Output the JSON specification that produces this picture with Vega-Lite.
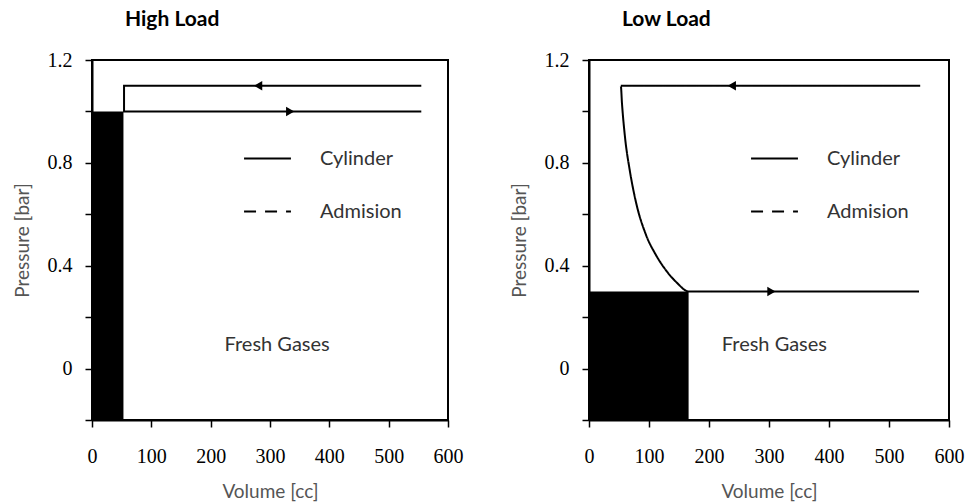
{
  "$schema": "https://vega.github.io/schema/vega-lite/v6.json",
  "background": "white",
  "padding": {"left": 12, "top": 8, "right": 5, "bottom": 2},
  "spacing": 45,
  "datasets": {
    "fill_high": [{"v0": 0, "v1": 53, "p0": -0.2, "p1": 1.0}],
    "path_high": [
      {"seq": 1, "v": 555, "p": 1.1, "series": "Cylinder"},
      {"seq": 2, "v": 54, "p": 1.1, "series": "Cylinder"},
      {"seq": 3, "v": 54, "p": 1.0, "series": "Cylinder"},
      {"seq": 4, "v": 555, "p": 1.0, "series": "Cylinder"}
    ],
    "arrow_high": [
      {"v": 280, "p": 1.1, "dir": "left"},
      {"v": 334, "p": 1.0, "dir": "right"}
    ],
    "note_high": [{"v": 312, "p": 0.09, "label": "Fresh Gases"}],
    "fill_low": [{"v0": 0, "v1": 166, "p0": -0.2, "p1": 0.3}],
    "path_low": [
      {"seq": 1, "v": 552, "p": 1.1, "series": "Cylinder"},
      {"seq": 2, "v": 53, "p": 1.1, "series": "Cylinder"},
      {"seq": 3, "v": 55, "p": 1.03, "series": "Cylinder"},
      {"seq": 4, "v": 60, "p": 0.9, "series": "Cylinder"},
      {"seq": 5, "v": 68, "p": 0.77, "series": "Cylinder"},
      {"seq": 6, "v": 78, "p": 0.65, "series": "Cylinder"},
      {"seq": 7, "v": 95, "p": 0.52, "series": "Cylinder"},
      {"seq": 8, "v": 112, "p": 0.44, "series": "Cylinder"},
      {"seq": 9, "v": 129, "p": 0.38, "series": "Cylinder"},
      {"seq": 10, "v": 146, "p": 0.335, "series": "Cylinder"},
      {"seq": 11, "v": 166, "p": 0.3, "series": "Cylinder"},
      {"seq": 12, "v": 550, "p": 0.3, "series": "Cylinder"}
    ],
    "arrow_low": [
      {"v": 238, "p": 1.1, "dir": "left"},
      {"v": 304, "p": 0.3, "dir": "right"}
    ],
    "note_low": [{"v": 309, "p": 0.09, "label": "Fresh Gases"}]
  },
  "config": {
    "view": {"stroke": "black", "strokeWidth": 2},
    "axis": {
      "domainColor": "black",
      "domainWidth": 2,
      "tickColor": "black",
      "tickWidth": 1.5,
      "tickSize": 7,
      "grid": false,
      "labelFlush": false,
      "labelFont": "Liberation Serif",
      "labelFontSize": 20,
      "labelColor": "black",
      "titleFont": "Lato",
      "titleFontSize": 19,
      "titleFontWeight": "normal",
      "titleColor": "#555555"
    },
    "title": {
      "font": "Lato",
      "fontSize": 21,
      "fontWeight": "bold",
      "color": "black",
      "anchor": "start",
      "frame": "group",
      "dx": 33,
      "offset": 20
    },
    "legend": {
      "orient": "none",
      "title": null,
      "symbolType": "stroke",
      "symbolSize": 2200,
      "symbolStrokeWidth": 2,
      "symbolStrokeColor": "black",
      "labelFont": "Lato",
      "labelFontSize": 20,
      "labelColor": "#333333",
      "labelOffset": 28,
      "rowPadding": 18
    }
  },
  "resolve": {
    "scale": {"strokeDash": "independent", "shape": "independent"},
    "legend": {"strokeDash": "independent"}
  },
  "hconcat": [
    {
      "title": "High Load",
      "width": 356,
      "height": 360,
      "layer": [
        {
          "data": {"name": "fill_high"},
          "mark": {"type": "rect", "color": "black"},
          "encoding": {
            "x": {"field": "v0", "type": "quantitative", "scale": {"domain": [0, 600], "nice": false},
              "axis": {"values": [0, 100, 200, 300, 400, 500, 600], "title": "Volume [cc]", "labelPadding": 19, "titlePadding": 16}},
            "x2": {"field": "v1"},
            "y": {"field": "p0", "type": "quantitative", "scale": {"domain": [-0.2, 1.2], "nice": false, "zero": false},
              "axis": {"values": [-0.2, 0, 0.2, 0.4, 0.6, 0.8, 1.0, 1.2], "format": "~g",
                "labelExpr": "indexof([0, 0.4, 0.8, 1.2], datum.value) >= 0 ? datum.label : ''",
                "title": "Pressure [bar]", "labelPadding": 13, "titlePadding": 15}},
            "y2": {"field": "p1"}
          }
        },
        {
          "data": {"name": "path_high"},
          "mark": {"type": "line", "color": "black", "strokeWidth": 2},
          "encoding": {
            "x": {"field": "v", "type": "quantitative"},
            "y": {"field": "p", "type": "quantitative"},
            "order": {"field": "seq", "type": "quantitative"},
            "strokeDash": {"field": "series", "type": "nominal",
              "scale": {"domain": ["Cylinder", "Admision"], "range": [[1, 0], [12, 9]]},
              "legend": {"legendX": 151, "legendY": 74}}
          }
        },
        {
          "data": {"name": "arrow_high"},
          "mark": {"type": "point", "filled": true, "color": "black", "size": 90, "opacity": 1},
          "encoding": {
            "x": {"field": "v", "type": "quantitative"},
            "y": {"field": "p", "type": "quantitative"},
            "shape": {"field": "dir", "type": "nominal",
              "scale": {"domain": ["left", "right"], "range": ["triangle-left", "triangle-right"]},
              "legend": null}
          }
        },
        {
          "data": {"name": "note_high"},
          "mark": {"type": "text", "font": "Lato", "fontSize": 20, "color": "#333333"},
          "encoding": {
            "x": {"field": "v", "type": "quantitative"},
            "y": {"field": "p", "type": "quantitative"},
            "text": {"field": "label"}
          }
        }
      ]
    },
    {
      "title": "Low Load",
      "width": 360,
      "height": 360,
      "layer": [
        {
          "data": {"name": "fill_low"},
          "mark": {"type": "rect", "color": "black"},
          "encoding": {
            "x": {"field": "v0", "type": "quantitative", "scale": {"domain": [0, 600], "nice": false},
              "axis": {"values": [0, 100, 200, 300, 400, 500, 600], "title": "Volume [cc]", "labelPadding": 19, "titlePadding": 16}},
            "x2": {"field": "v1"},
            "y": {"field": "p0", "type": "quantitative", "scale": {"domain": [-0.2, 1.2], "nice": false, "zero": false},
              "axis": {"values": [-0.2, 0, 0.2, 0.4, 0.6, 0.8, 1.0, 1.2], "format": "~g",
                "labelExpr": "indexof([0, 0.4, 0.8, 1.2], datum.value) >= 0 ? datum.label : ''",
                "title": "Pressure [bar]", "labelPadding": 13, "titlePadding": 15}},
            "y2": {"field": "p1"}
          }
        },
        {
          "data": {"name": "path_low"},
          "mark": {"type": "line", "color": "black", "strokeWidth": 2, "interpolate": "monotone"},
          "encoding": {
            "x": {"field": "v", "type": "quantitative"},
            "y": {"field": "p", "type": "quantitative"},
            "order": {"field": "seq", "type": "quantitative"},
            "strokeDash": {"field": "series", "type": "nominal",
              "scale": {"domain": ["Cylinder", "Admision"], "range": [[1, 0], [12, 9]]},
              "legend": {"legendX": 161, "legendY": 74}}
          }
        },
        {
          "data": {"name": "arrow_low"},
          "mark": {"type": "point", "filled": true, "color": "black", "size": 90, "opacity": 1},
          "encoding": {
            "x": {"field": "v", "type": "quantitative"},
            "y": {"field": "p", "type": "quantitative"},
            "shape": {"field": "dir", "type": "nominal",
              "scale": {"domain": ["left", "right"], "range": ["triangle-left", "triangle-right"]},
              "legend": null}
          }
        },
        {
          "data": {"name": "note_low"},
          "mark": {"type": "text", "font": "Lato", "fontSize": 20, "color": "#333333"},
          "encoding": {
            "x": {"field": "v", "type": "quantitative"},
            "y": {"field": "p", "type": "quantitative"},
            "text": {"field": "label"}
          }
        }
      ]
    }
  ]
}
